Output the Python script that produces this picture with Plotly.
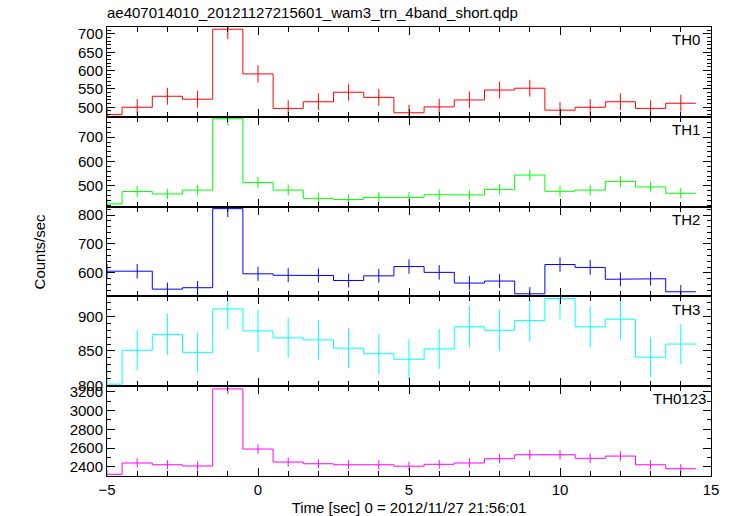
import plotly.graph_objects as go
from plotly.subplots import make_subplots

time_centers = [-5, -4, -3, -2, -1, 0, 1, 2, 3, 4, 5, 6, 7, 8, 9, 10, 11, 12, 13, 14]
bin_width = 1.0

th0 = [480, 500, 530, 522, 713, 591, 497, 515, 541, 527, 485, 501, 520, 547, 552, 492, 500, 515, 497, 511]
th0_err = [22, 22, 23, 23, 27, 24, 22, 23, 23, 23, 22, 22, 23, 23, 23, 22, 22, 23, 22, 23]
th1 = [425, 476, 466, 482, 776, 513, 482, 448, 443, 452, 452, 463, 462, 485, 544, 477, 482, 518, 495, 469]
th1_err = [21, 22, 22, 22, 28, 23, 22, 21, 21, 21, 21, 22, 21, 22, 23, 22, 22, 23, 22, 22]
th2 = [606, 606, 544, 549, 822, 597, 592, 591, 574, 590, 622, 602, 565, 572, 528, 629, 619, 578, 580, 535]
th2_err = [25, 25, 23, 23, 29, 24, 24, 24, 24, 24, 25, 25, 24, 24, 23, 25, 25, 24, 24, 23]
th3 = [802, 851, 874, 848, 911, 879, 869, 866, 854, 846, 838, 853, 885, 880, 894, 926, 885, 896, 841, 860]
th3_err = [28, 29, 30, 29, 30, 30, 29, 29, 29, 29, 29, 29, 30, 30, 30, 30, 30, 30, 29, 29]
th0123 = [2319, 2440, 2421, 2408, 3232, 2589, 2450, 2432, 2421, 2421, 2406, 2426, 2440, 2486, 2528, 2528, 2490, 2514, 2421, 2379]
th0123_err = [48, 49, 49, 49, 57, 51, 49, 49, 49, 49, 49, 49, 49, 50, 50, 50, 50, 50, 49, 49]

panel_names = ["TH0", "TH1", "TH2", "TH3", "TH0123"]
panel_values = [th0, th1, th2, th3, th0123]
panel_errors = [th0_err, th1_err, th2_err, th3_err, th0123_err]
panel_colors = ["#ff0000", "#00ff00", "#0000ff", "#00ffff", "#ff00ff"]
panel_ranges = [[474, 719], [414, 784], [519, 829], [799, 929], [2301, 3261]]
panel_dticks = [50, 100, 100, 50, 200]
panel_minor = [10, 20, 20, 10, 100]
label_x = [0.985, 0.985, 0.985, 0.985, 0.995]

title_text = "ae407014010_20121127215601_wam3_trn_4band_short.qdp"
x_title = "Time [sec] 0 = 2012/11/27 21:56:01"
y_title = "Counts/sec"

FONT = "Liberation Sans, Arial, Helvetica, sans-serif"

fig = make_subplots(rows=5, cols=1, shared_xaxes=True, vertical_spacing=0)

for i, (name, vals, errs, col) in enumerate(zip(panel_names, panel_values, panel_errors, panel_colors)):
    row = i + 1
    sx, sy = [], []
    for c, v in zip(time_centers, vals):
        sx += [c - bin_width / 2, c + bin_width / 2]
        sy += [v, v]
    fig.add_trace(go.Scatter(x=sx, y=sy, mode="lines", line=dict(color=col, width=1),
                             hoverinfo="skip", showlegend=False), row=row, col=1)
    fig.add_trace(go.Scatter(x=time_centers, y=vals, mode="markers",
                             marker=dict(size=0.1, color=col, opacity=0),
                             error_y=dict(type="data", array=errs, visible=True, color=col,
                                          thickness=1, width=0),
                             showlegend=False), row=row, col=1)
    fig.update_yaxes(range=panel_ranges[i], dtick=panel_dticks[i], tick0=0,
                     ticks="inside", ticklen=8, tickcolor="black", tickwidth=1,
                     minor=dict(dtick=panel_minor[i], tick0=0, ticks="inside", ticklen=4, tickcolor="black"),
                     showline=True, linecolor="black", linewidth=1, mirror="allticks",
                     showgrid=False, zeroline=False, automargin=False,
                     tickfont=dict(family=FONT, size=15, color="black"),
                     row=row, col=1)
    fig.update_xaxes(range=[-5, 15], dtick=5, tick0=0,
                     ticks="inside", ticklen=8, tickcolor="black", tickwidth=1,
                     minor=dict(dtick=1, tick0=0, ticks="inside", ticklen=5, tickcolor="black"),
                     showline=True, linecolor="black", linewidth=1, mirror="allticks",
                     showgrid=False, zeroline=False, automargin=False,
                     showticklabels=(row == 5),
                     tickfont=dict(family=FONT, size=15, color="black"),
                     row=row, col=1)
    axref = "x" if row == 1 else f"x{row}"
    ayref = "y" if row == 1 else f"y{row}"
    fig.add_annotation(text=name, xref=f"{axref} domain", yref=f"{ayref} domain",
                       x=label_x[i], y=0.975, xanchor="right", yanchor="top", showarrow=False,
                       font=dict(family=FONT, size=15, color="black"))

fig.update_xaxes(title=dict(text=x_title, font=dict(family=FONT, size=15, color="black"), standoff=8), row=5, col=1)

fig.add_annotation(text=y_title, xref="paper", yref="paper", x=-0.111, y=0.5, textangle=-90,
                   showarrow=False, xanchor="center", yanchor="middle",
                   font=dict(family=FONT, size=15, color="black"))

fig.update_layout(
    width=733, height=516,
    margin=dict(l=107, r=22, t=27, b=40),
    paper_bgcolor="white", plot_bgcolor="white",
    title=dict(text=title_text, x=107 / 733, xanchor="left", y=1 - 13 / 516, yanchor="middle",
               xref="container", yref="container",
               font=dict(family=FONT, size=15, color="black")),
    font=dict(family=FONT, size=15, color="black"),
    hovermode=False,
)

fig.write_html("out.html", config={"displayModeBar": False},
               post_script="document.body.style.margin='0';")
